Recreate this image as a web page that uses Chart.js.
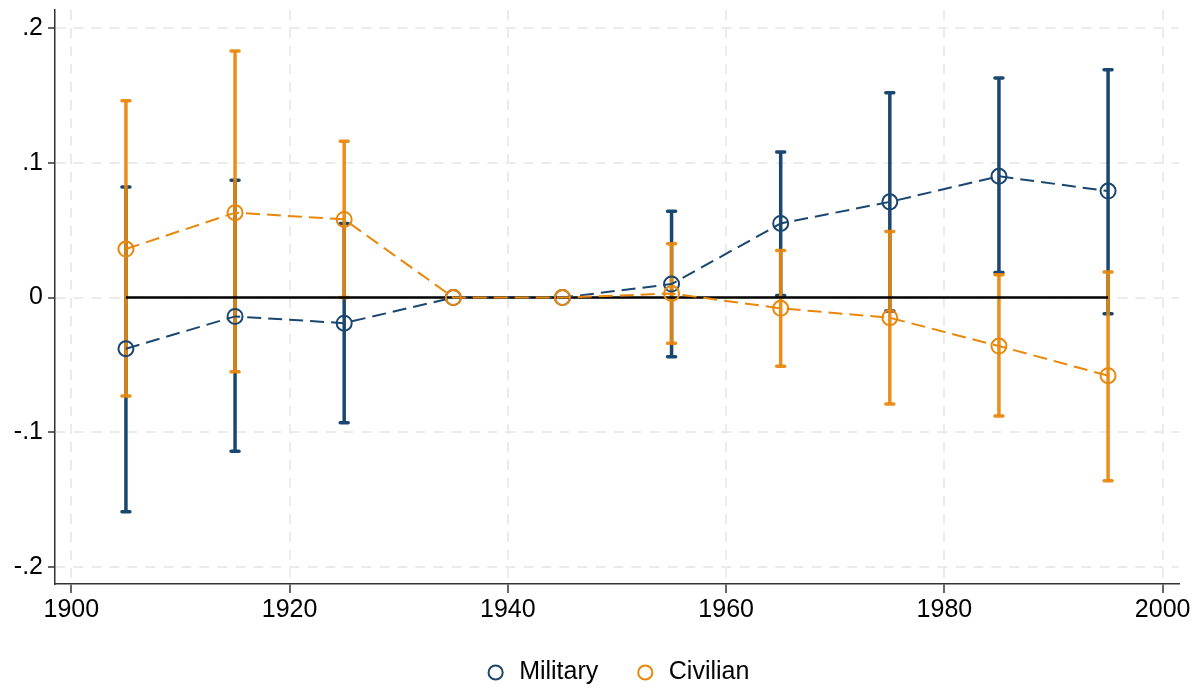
<!DOCTYPE html>
<html>
<head>
<meta charset="utf-8">
<script src="https://cdn.jsdelivr.net/npm/chart.js@4/dist/chart.umd.min.js"></script>
<style>
  html, body { margin: 0; padding: 0; background: #fff; }
  #wrap { width: 1195px; height: 688px; }
</style>
</head>
<body>
<div id="wrap"><canvas id="chart" width="1195" height="688"></canvas></div>
<script>
// decade cohorts (midpoints), estimates and 95% CIs
const years = [1905, 1915, 1925, 1935, 1945, 1955, 1965, 1975, 1985, 1995];

const militaryEst  = [-0.038, -0.014, -0.019, 0, 0, 0.010, 0.055, 0.071, 0.090, 0.079];
const militaryLow  = [-0.159, -0.114, -0.093, 0, 0, -0.044, 0.0015, -0.010, 0.0185, -0.012];
const militaryHigh = [0.082, 0.087, 0.055, 0, 0, 0.064, 0.108, 0.152, 0.163, 0.169];

const civilianEst  = [0.036, 0.063, 0.058, 0, 0, 0.003, -0.008, -0.015, -0.036, -0.058];
const civilianLow  = [-0.073, -0.055, 0.0, 0, 0, -0.034, -0.051, -0.079, -0.088, -0.136];
const civilianHigh = [0.146, 0.183, 0.116, 0, 0, 0.040, 0.035, 0.049, 0.017, 0.019];

const xTicks = [1900, 1920, 1940, 1960, 1980, 2000];
const yTicks = [-0.2, -0.1, 0, 0.1, 0.2];

const navy = '#1a476f';
const orange = '#e8870a';
const fontFamily = "'Liberation Sans', Arial, sans-serif";

// stata style labels: .2, .1, 0, -.1, -.2
function fmtY(v) {
  if (Math.abs(v) < 1e-9) return '0';
  const s = Math.abs(v).toFixed(1).replace(/^0/, '');
  return (v < 0 ? '-' : '') + s;
}

const errorBars = {
  id: 'errorBars',
  beforeDatasetsDraw(chart) {
    const {ctx, scales: {x, y}} = chart;
    chart.data.datasets.forEach((ds) => {
      if (!ds.errLow) return;
      ctx.save();
      ctx.strokeStyle = ds.errColor;
      ds.data.forEach((pt, j) => {
        const lo = ds.errLow[j], hi = ds.errHigh[j];
        if (lo === hi) return;
        const px = x.getPixelForValue(pt.x);
        const yTop = y.getPixelForValue(hi);
        const yBot = y.getPixelForValue(lo);
        ctx.lineWidth = 3.5;
        ctx.lineCap = 'butt';
        ctx.beginPath();
        ctx.moveTo(px, yTop);
        ctx.lineTo(px, yBot);
        ctx.stroke();
        // caps
        ctx.lineCap = 'round';
        ctx.beginPath();
        ctx.moveTo(px - 4, yTop); ctx.lineTo(px + 4, yTop);
        ctx.moveTo(px - 4, yBot); ctx.lineTo(px + 4, yBot);
        ctx.stroke();
      });
      ctx.restore();
    });
  }
};

const ctx = document.getElementById('chart');

new Chart(ctx, {
  type: 'line',
  data: {
    datasets: [
      {
        label: 'Military',
        data: years.map((yr, i) => ({x: yr, y: militaryEst[i]})),
        errLow: militaryLow,
        errHigh: militaryHigh,
        errColor: navy,
        borderColor: navy,
        backgroundColor: 'rgba(0,0,0,0)',
        borderWidth: 2,
        borderDash: [14, 7],
        pointRadius: 7.5,
        pointHoverRadius: 7.5,
        pointBorderWidth: 2,
        pointStyle: 'circle',
        order: 2,
      },
      {
        label: 'Civilian',
        data: years.map((yr, i) => ({x: yr, y: civilianEst[i]})),
        errLow: civilianLow,
        errHigh: civilianHigh,
        errColor: 'rgba(232,135,10,0.93)',
        borderColor: orange,
        backgroundColor: 'rgba(0,0,0,0)',
        borderWidth: 2,
        borderDash: [14, 7],
        pointRadius: 7.5,
        pointHoverRadius: 7.5,
        pointBorderWidth: 2,
        pointStyle: 'circle',
        order: 1,
      },
      {
        label: 'zero',
        data: [{x: years[0], y: 0}, {x: years[years.length - 1], y: 0}],
        borderColor: '#000',
        borderWidth: 2.5,
        pointRadius: 0,
        order: 3,
      },
    ]
  },
  options: {
    responsive: false,
    animation: false,
    layout: {
      padding: {top: 10, right: 16, bottom: -7, left: 0}
    },
    plugins: {
      tooltip: {enabled: false},
      legend: {
        position: 'bottom',
        fullSize: false,
        labels: {
          usePointStyle: true,
          boxWidth: 22,
          boxHeight: 10,
          padding: 36,
          color: '#000',
          font: {family: fontFamily, size: 25},
          filter: (item) => item.datasetIndex < 2,
          sort: (a, b) => a.datasetIndex - b.datasetIndex,
          generateLabels: (chart) => {
            const items = Chart.defaults.plugins.legend.labels.generateLabels(chart);
            return items.map(it => Object.assign(it, {lineDash: [], lineWidth: 2, fillStyle: 'rgba(0,0,0,0)'}));
          }
        }
      }
    },
    scales: {
      x: {
        type: 'linear',
        min: 1898.5,
        max: 2001.5,
        afterBuildTicks: (s) => { s.ticks = xTicks.map(v => ({value: v})); },
        afterFit: (s) => { s.height = 40; },
        ticks: {
          color: '#000',
          font: {family: fontFamily, size: 25},
          padding: 2,
          maxRotation: 0,
          callback: (v) => String(v),
        },
        grid: {
          color: '#ebebeb',
          lineWidth: 2,
          tickColor: '#333',
          tickLength: 9,
          tickWidth: 1.5,
        },
        border: {display: true, color: '#333', width: 1.5, dash: [10, 8]},
      },
      y: {
        type: 'linear',
        min: -0.2126,
        max: 0.2134,
        afterBuildTicks: (s) => { s.ticks = yTicks.map(v => ({value: v})); },
        afterFit: (s) => { s.width = 55; s.paddingTop = 0; s.paddingBottom = 0; },
        ticks: {
          color: '#000',
          font: {family: fontFamily, size: 25},
          padding: 5,
          callback: (v) => fmtY(v),
        },
        grid: {
          color: '#ebebeb',
          lineWidth: 2,
          tickColor: '#333',
          tickLength: 7,
          tickWidth: 1.5,
        },
        border: {display: true, color: '#333', width: 1.5, dash: [10, 8]},
      }
    }
  },
  plugins: [errorBars]
});
</script>
</body>
</html>
